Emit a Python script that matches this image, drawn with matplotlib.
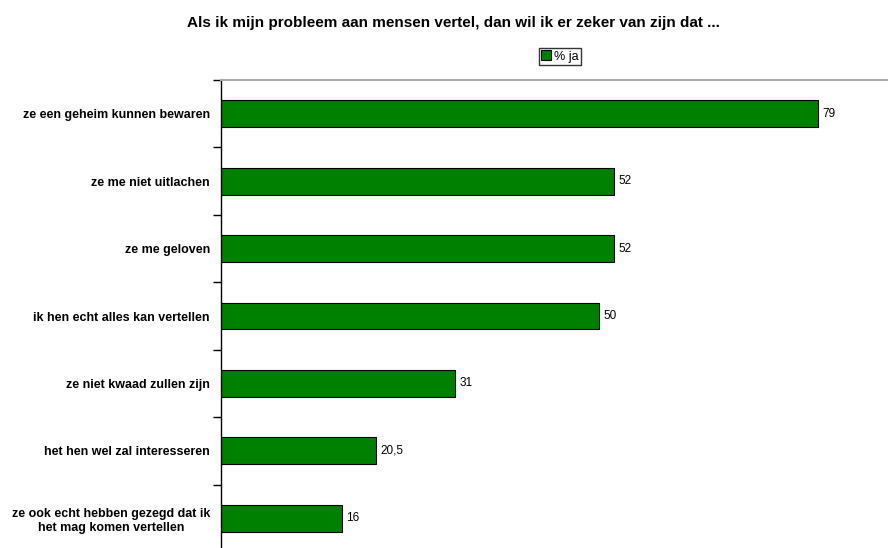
import numpy as np
import matplotlib.pyplot as plt

plt.rcParams["font.family"] = ["Liberation Sans", "DejaVu Sans"]

categories = ["ze een geheim kunnen bewaren", "ze me niet uitlachen", "ze me geloven",
              "ik hen echt alles kan vertellen", "ze niet kwaad zullen zijn",
              "het hen wel zal interesseren",
              "ze ook echt hebben gezegd dat ik\nhet mag komen vertellen"]
values = [79, 52, 52, 50, 31, 20.5, 16]
value_labels = ["79", "52", "52", "50", "31", "20,5", "16"]

fig = plt.figure(figsize=(8.88, 5.48), dpi=100)
ax = fig.add_axes([221 / 888, -4 / 548, 1 - 221 / 888, 472 / 548])

y = np.arange(len(categories))
bars = ax.barh(y, values, height=0.4, color="#008000", edgecolor="black", linewidth=0.8, label="% ja")
ax.set_ylim(len(categories) - 0.5, -0.5)
ax.set_xlim(0, 88.3)

for b, lab in zip(bars, value_labels):
    ax.text(b.get_width() + 0.6, b.get_y() + b.get_height() / 2, lab,
            va="center", ha="left", fontsize=8.5)

ax.set_yticks(y)
ax.set_yticklabels(categories, fontsize=9, fontweight="bold", multialignment="center")
ax.tick_params(axis="y", which="major", length=0, pad=8)
ax.set_yticks(np.arange(-0.5, len(categories), 1), minor=True)
ax.tick_params(axis="y", which="minor", length=6, width=1, color="black")

ax.xaxis.set_visible(False)
ax.spines["right"].set_visible(False)
ax.spines["bottom"].set_visible(False)
ax.spines["top"].set_color("#aaaaaa")
ax.spines["top"].set_linewidth(1.5)
ax.spines["left"].set_linewidth(1)

fig.text(453 / 888, 1 - 23 / 548, "Als ik mijn probleem aan mensen vertel, dan wil ik er zeker van zijn dat ...",
         ha="center", va="center", fontsize=11, fontweight="bold")
fig.legend(loc="center", bbox_to_anchor=(560 / 888, 1 - 56.5 / 548), fontsize=9, frameon=True,
           fancybox=False, edgecolor="black", handlelength=0.8, handleheight=0.8,
           handletextpad=0.2, borderpad=0.2, borderaxespad=0)

fig.savefig("out.png", dpi=100)
